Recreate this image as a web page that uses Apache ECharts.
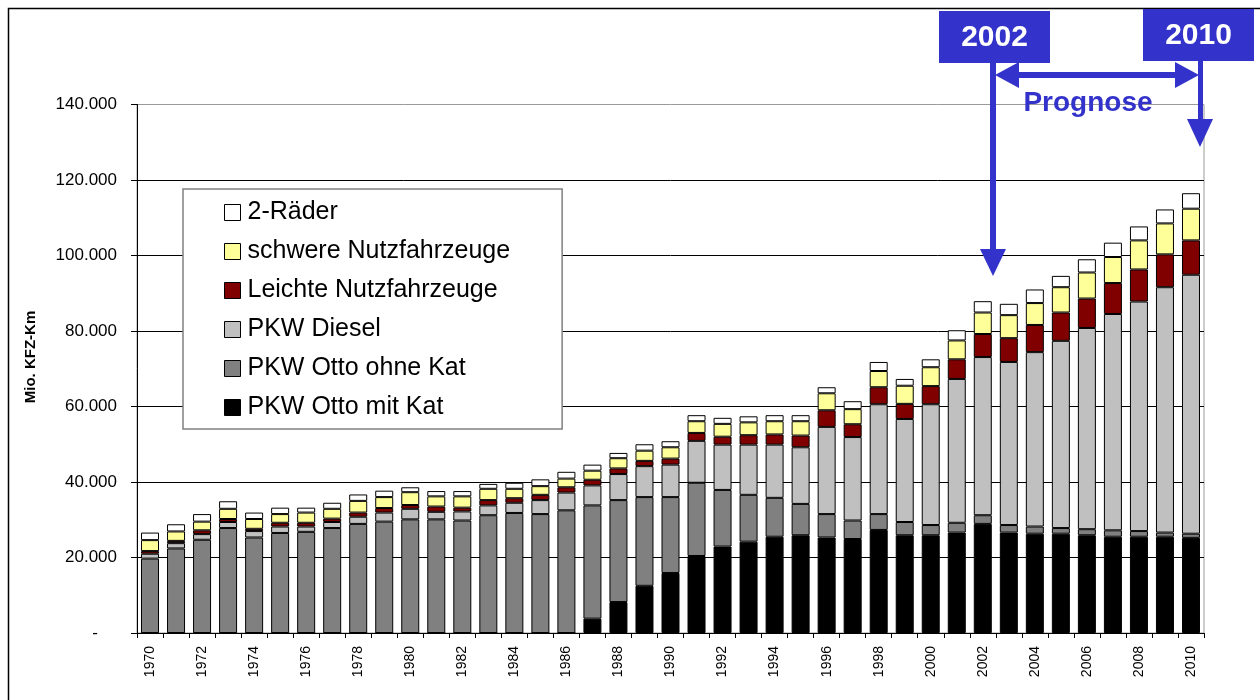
<!DOCTYPE html>
<html>
<head>
<meta charset="utf-8">
<script src="https://cdn.jsdelivr.net/npm/echarts@6/dist/echarts.min.js"></script>
<style>
  html, body { margin: 0; padding: 0; background: #fff; }
  #chart { width: 1260px; height: 700px; }
</style>
</head>
<body>
<div id="chart"></div>
<script>
// Jahre 1970 - 2010 (ab 2002 Prognose)
const years = [];
for (let y = 1970; y <= 2010; y++) years.push(String(y));

// Mio. KFZ-Km je Fahrzeugart
const ottoMitKat = [0, 0, 0, 0, 0, 0, 0, 0, 0, 0, 0, 0, 0, 0, 0, 0, 0,
    3800, 8200, 12500, 15900, 20400, 22900, 24200, 25500, 25900, 25300, 24900, 27300, 25900, 25900,
    26600, 28900, 26600, 26300, 26300, 25900, 25500, 25500, 25500, 25200];
const ottoOhneKat = [19700, 22400, 24700, 27800, 25300, 26500, 26800, 27800, 28900, 29500, 30100,
    30100, 29800, 31200, 31800, 31500, 32500, 30000, 27000, 23500, 20100,
    19400, 15000, 12400, 10300, 8300, 6200, 4900, 4200, 3500, 2700,
    2600, 2300, 2000, 1900, 1500, 1600, 1700, 1500, 1100, 1100];
const pkwDiesel = [1300, 1400, 1500, 1600, 1700, 1700, 1400, 1600, 1900, 2400, 2800,
    2000, 2400, 2600, 2700, 3700, 4700, 5300, 6900, 8200, 8600,
    11100, 12000, 13300, 14100, 15000, 23100, 22100, 29100, 27300, 32000,
    38100, 41900, 43200, 46200, 49600, 53300, 57300, 60800, 65000, 68600];
const leichteNfz = [700, 600, 1000, 800, 600, 1000, 1000, 900, 1100, 1200, 1000,
    1400, 1000, 1400, 1200, 1400, 1400, 1500, 1500, 1400, 1600,
    2100, 2100, 2500, 2700, 3100, 4400, 3400, 4500, 4000, 4800,
    5200, 6100, 6300, 7200, 7500, 7800, 8200, 8500, 8700, 9100];
const schwereNfz = [2900, 2500, 2300, 2700, 2600, 2300, 2700, 2600, 3100, 2900, 3400,
    2700, 3000, 3000, 2500, 2300, 2300, 2400, 2700, 2700, 3000,
    3100, 3400, 3400, 3500, 3800, 4500, 4000, 4300, 4800, 5000,
    5000, 5700, 6100, 5800, 6700, 6900, 6900, 7700, 8200, 8400];
const zweiRaeder = [2000, 1900, 2000, 2000, 1700, 1700, 1300, 1600, 1700, 1700, 1300,
    1400, 1400, 1300, 1600, 1800, 1800, 1600, 1400, 1700, 1600,
    1600, 1600, 1600, 1600, 1600, 1600, 2100, 2400, 1800, 2100,
    2700, 3000, 3000, 3600, 3000, 3500, 3800, 3700, 3700, 4100];

const FONT = 'Liberation Sans, Arial, sans-serif';
const BLUE = '#3333cc';

const seriesDefs = [
    { name: 'PKW Otto mit Kat', data: ottoMitKat, color: '#000000' },
    { name: 'PKW Otto ohne Kat', data: ottoOhneKat, color: '#808080' },
    { name: 'PKW Diesel', data: pkwDiesel, color: '#c0c0c0' },
    { name: 'Leichte Nutzfahrzeuge', data: leichteNfz, color: '#800000' },
    { name: 'schwere Nutzfahrzeuge', data: schwereNfz, color: '#ffff99' },
    { name: '2-Räder', data: zweiRaeder, color: '#ffffff' }
];

// 20000 -> "20.000", 0 -> "-"
function fmtDe(v) {
    if (v === 0) return '{d|-}';
    return String(v).replace(/\B(?=(\d{3})+(?!\d))/g, '.');
}

const chart = echarts.init(document.getElementById('chart'), null, { renderer: 'canvas' });

const option = {
    animation: false,
    backgroundColor: '#fff',
    textStyle: { fontFamily: FONT },
    grid: {
        left: 137, right: 56, top: 104.5, bottom: 67,
        show: true, borderColor: '#9a9a9a', borderWidth: 1
    },
    legend: {
        orient: 'vertical',
        left: 183, top: 189,
        data: seriesDefs.map(s => s.name).reverse(),
        icon: 'rect',
        itemWidth: 16, itemHeight: 16, itemGap: 14,
        selectedMode: false,
        backgroundColor: '#fff',
        borderColor: '#808080', borderWidth: 1.5,
        padding: [11, 52, 9, 41],
        textStyle: { fontSize: 25, color: '#000', fontFamily: FONT, padding: [0, 0, 0, 2] },
        itemStyle: { borderColor: '#000', borderWidth: 1 }
    },
    xAxis: {
        type: 'category',
        data: years,
        boundaryGap: true,
        axisLine: { lineStyle: { color: '#000', width: 1 } },
        axisTick: { show: true, interval: 0, length: 5, lineStyle: { color: '#000' } },
        axisLabel: {
            interval: 1, rotate: 90, margin: 13,
            fontSize: 14, color: '#000', fontFamily: FONT
        },
        splitLine: { show: false }
    },
    yAxis: {
        type: 'value',
        min: 0, max: 140000, interval: 20000,
        axisLine: { show: true, lineStyle: { color: '#000', width: 1 } },
        axisTick: { show: true, length: 6, lineStyle: { color: '#000' } },
        axisLabel: {
            margin: 20, fontSize: 17, color: '#000', fontFamily: FONT,
            formatter: fmtDe,
            rich: { d: { fontSize: 17, color: '#000', padding: [0, 19, 0, 0] } }
        },
        splitLine: { show: true, showMaxLine: false, lineStyle: { color: '#000', width: 1 } }
    },
    series: seriesDefs.map(s => ({
        name: s.name,
        type: 'bar',
        stack: 'kfz',
        barWidth: 18,
        data: s.data,
        itemStyle: { color: s.color, borderColor: '#000', borderWidth: 1 },
        emphasis: { disabled: true }
    })),
    graphic: [
        // Rahmen (oben/links sichtbar)
        { type: 'rect', shape: { x: 8.5, y: 8.5, width: 1300, height: 800 },
          style: { fill: 'none', stroke: '#000', lineWidth: 1.5 }, z: 1 },
        // Achsentitel
        { type: 'text', x: 31, y: 357, rotation: Math.PI / 2,
          style: { text: 'Mio. KFZ-Km', font: 'bold 15px ' + FONT, fill: '#000',
                   align: 'center', verticalAlign: 'middle' } },
        // 2002 Kasten + Pfeil
        { type: 'rect', shape: { x: 939, y: 11, width: 111, height: 52 }, style: { fill: BLUE }, z: 10 },
        { type: 'text', x: 994.5, y: 38, z: 11,
          style: { text: '2002', font: 'bold 30px ' + FONT, fill: '#fff', align: 'center', verticalAlign: 'middle' } },
        { type: 'rect', shape: { x: 990, y: 62, width: 6, height: 189 }, style: { fill: BLUE }, z: 10 },
        { type: 'polygon', shape: { points: [[980, 249], [1006, 249], [993, 276]] }, style: { fill: BLUE }, z: 10 },
        // 2010 Kasten + Pfeil
        { type: 'rect', shape: { x: 1143, y: 9, width: 111, height: 52 }, style: { fill: BLUE }, z: 10 },
        { type: 'text', x: 1198.5, y: 36, z: 11,
          style: { text: '2010', font: 'bold 30px ' + FONT, fill: '#fff', align: 'center', verticalAlign: 'middle' } },
        { type: 'rect', shape: { x: 1198, y: 60, width: 5, height: 61 }, style: { fill: BLUE }, z: 10 },
        { type: 'polygon', shape: { points: [[1187, 119], [1213, 119], [1200, 147]] }, style: { fill: BLUE }, z: 10 },
        // Prognose-Doppelpfeil
        { type: 'rect', shape: { x: 1015, y: 72, width: 164, height: 6 }, style: { fill: BLUE }, z: 10 },
        { type: 'polygon', shape: { points: [[995, 75], [1019, 62], [1019, 88]] }, style: { fill: BLUE }, z: 10 },
        { type: 'polygon', shape: { points: [[1199, 75], [1175, 62], [1175, 88]] }, style: { fill: BLUE }, z: 10 },
        { type: 'text', x: 1088, y: 103, z: 11,
          style: { text: 'Prognose', font: 'bold 28px ' + FONT, fill: BLUE, align: 'center', verticalAlign: 'middle' } }
    ]
};

chart.setOption(option);
</script>
</body>
</html>
